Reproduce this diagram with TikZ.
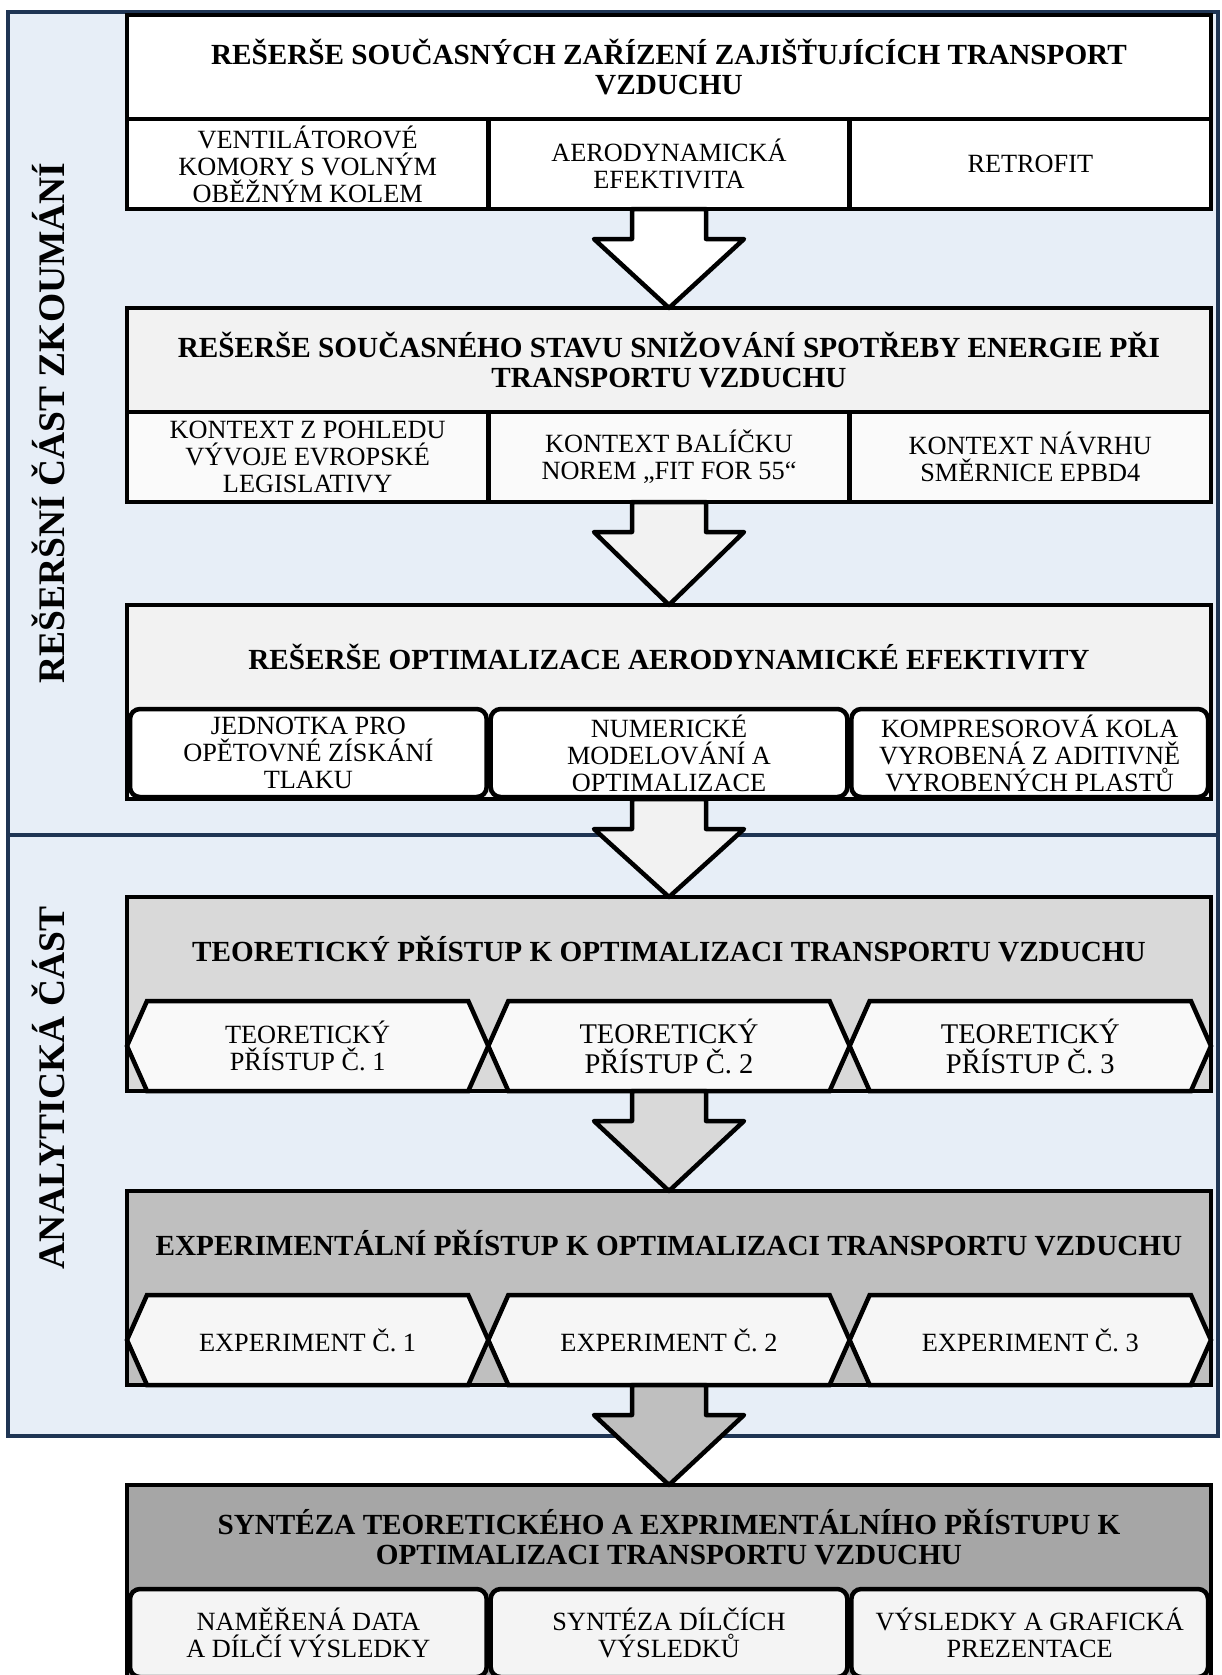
\documentclass[tikz,border=0pt]{standalone}
\usepackage{fontspec}
\setmainfont{Liberation Serif}
\usetikzlibrary
  {
    positioning,
    calc,
    shapes.symbols,
  }
\definecolor{panelfill}{RGB}{231,238,247}
\definecolor{paneldraw}{RGB}{31,53,84}
\definecolor{grayA}{RGB}{242,242,242}
\definecolor{grayB}{RGB}{217,217,217}
\definecolor{grayC}{RGB}{191,191,191}
\definecolor{grayD}{RGB}{166,166,166}
\definecolor{cellA}{RGB}{250,250,250}
\definecolor{cellB}{RGB}{249,249,249}
\definecolor{cellC}{RGB}{246,246,246}
\definecolor{cellD}{RGB}{244,244,244}
\newcommand\titlefont{\bfseries\fontsize{29.2}{30}\selectfont}
\newcommand\cellfont{\fontsize{26.3}{27}\selectfont}
\newcommand\bigcellfont{\fontsize{28.5}{30}\selectfont}
\newcommand\sidefont{\bfseries\fontsize{37.5}{40}\selectfont}
\newcommand\stagearrow[3]
  {
    \draw[stage arrow, fill=#3]
      ($(#1)+(-37,0)$) -- ($(#1)+(-37,30)$) -- ($(#1)+(-75,30)$)
      -- (#2)
      -- ($(#1)+(75,30)$) -- ($(#1)+(37,30)$) -- ($(#1)+(37,0)$) -- cycle;
  }
\tikzset
  {
    panel/.style=
      {
        draw=paneldraw,
        fill=panelfill,
        line width=4pt,
        rectangle,
        outer sep=0pt,
        minimum width=1210pt,
        anchor=north west,
      },
    side label/.style={rotate=90, font=\sidefont},
    stage/.style=
      {
        draw,
        line width=4.5pt,
        rectangle,
        outer sep=0pt,
        inner sep=0pt,
        minimum width=1084pt,
        minimum height=194pt,
        anchor=north,
      },
    stage title/.style=
      {
        rectangle,
        outer sep=0pt,
        inner sep=0pt,
        minimum width=1084pt,
        minimum height=104pt,
        align=center,
        font=\titlefont,
      },
    cell/.style=
      {
        draw,
        line width=4.5pt,
        rectangle,
        outer sep=0pt,
        inner sep=0pt,
        minimum width=361.33pt,
        minimum height=90pt,
        align=center,
        font=\cellfont,
      },
    round cell/.style=
      {
        cell,
        rounded corners=10pt,
        minimum width=356.67pt,
        minimum height=88pt,
      },
    hex cell/.style=
      {
        cell,
        shape=signal,
        signal to=west and east,
        signal pointer angle=132,
      },
    stage arrow/.style={draw, line width=4.5pt, line join=round},
  }
\begin{document}
\begin{tikzpicture}[x=1pt, y=-1pt]
  \clip (0,0) rectangle (1222,1675);

  \node[panel, minimum height=823pt] (research) at (8,12) {};
  \node[panel, minimum height=601pt] (analysis) at (8,835) {};
  \node[side label] (research label) at (48,423) {REŠERŠNÍ ČÁST ZKOUMÁNÍ};
  \node[side label] (analysis label) at (48,1088) {ANALYTICKÁ ČÁST};

  \node[stage, fill=white] (devices) at (669,15) {};
  \node[stage title, below=0pt of devices.north] (devices title)
    {REŠERŠE SOUČASNÝCH ZAŘÍZENÍ ZAJIŠŤUJÍCÍCH TRANSPORT\\VZDUCHU};
  \begin{scope}[every node/.style={cell, fill=white}]
    \node[above right=0pt and 0pt of devices.south west] (fans)
      {VENTILÁTOROVÉ\\KOMORY S VOLNÝM\\OBĚŽNÝM KOLEM};
    \node[right=0pt of fans] (aero) {AERODYNAMICKÁ\\EFEKTIVITA};
    \node[right=0pt of aero] (retrofit) {RETROFIT};
  \end{scope}

  \node[stage, fill=grayA] (energy) at (669,308) {};
  \node[stage title, below=0pt of energy.north] (energy title)
    {REŠERŠE SOUČASNÉHO STAVU SNIŽOVÁNÍ SPOTŘEBY ENERGIE PŘI\\TRANSPORTU VZDUCHU};
  \begin{scope}[every node/.style={cell, fill=cellA}]
    \node[above right=0pt and 0pt of energy.south west] (legislation)
      {KONTEXT Z POHLEDU\\VÝVOJE EVROPSKÉ\\LEGISLATIVY};
    \node[right=0pt of legislation] (fit55) {KONTEXT BALÍČKU\\NOREM „FIT FOR 55“};
    \node[right=0pt of fit55] (epbd) {KONTEXT NÁVRHU\\SMĚRNICE EPBD4};
  \end{scope}

  \node[stage, fill=grayA] (optimization) at (669,605) {};
  \node[stage title, below=0pt of optimization.north] (optimization title)
    {REŠERŠE OPTIMALIZACE AERODYNAMICKÉ EFEKTIVITY};
  \begin{scope}[every node/.style={round cell, fill=white}]
    \node[above right=2pt and 3pt of optimization.south west] (recovery)
      {JEDNOTKA PRO\\OPĚTOVNÉ ZÍSKÁNÍ\\TLAKU};
    \node[right=4pt of recovery] (numeric) {NUMERICKÉ\\MODELOVÁNÍ A\\OPTIMALIZACE};
    \node[right=4pt of numeric] (wheels)
      {KOMPRESOROVÁ KOLA\\VYROBENÁ Z ADITIVNĚ\\VYROBENÝCH PLASTŮ};
  \end{scope}

  \node[stage, fill=grayB] (theory) at (669,897) {};
  \node[stage title, below=0pt of theory.north] (theory title)
    {TEORETICKÝ PŘÍSTUP K OPTIMALIZACI TRANSPORTU VZDUCHU};
  \begin{scope}[every node/.style={hex cell, fill=cellB}]
    \node[above right=0pt and 20pt of theory.south west] (theory one)
      {TEORETICKÝ\\PŘÍSTUP Č. 1};
    \node[right=0pt of theory one, font=\bigcellfont] (theory two)
      {TEORETICKÝ\\PŘÍSTUP Č. 2};
    \node[right=0pt of theory two, font=\bigcellfont] (theory three)
      {TEORETICKÝ\\PŘÍSTUP Č. 3};
  \end{scope}

  \node[stage, fill=grayC] (experiment) at (669,1191) {};
  \node[stage title, below=0pt of experiment.north] (experiment title)
    {EXPERIMENTÁLNÍ PŘÍSTUP K OPTIMALIZACI TRANSPORTU VZDUCHU};
  \begin{scope}[every node/.style={hex cell, fill=cellC}]
    \node[above right=0pt and 20pt of experiment.south west] (experiment one)
      {EXPERIMENT Č. 1};
    \node[right=0pt of experiment one] (experiment two) {EXPERIMENT Č. 2};
    \node[right=0pt of experiment two] (experiment three) {EXPERIMENT Č. 3};
  \end{scope}

  \node[stage, fill=grayD] (synthesis) at (669,1485) {};
  \node[stage title, below=0pt of synthesis.north] (synthesis title)
    {SYNTÉZA TEORETICKÉHO A EXPRIMENTÁLNÍHO PŘÍSTUPU K\\OPTIMALIZACI TRANSPORTU VZDUCHU};
  \begin{scope}[every node/.style={round cell, fill=cellD}]
    \node[above right=2pt and 3pt of synthesis.south west] (measured)
      {NAMĚŘENÁ DATA\\A DÍLČÍ VÝSLEDKY};
    \node[right=4pt of measured] (partial) {SYNTÉZA DÍLČÍCH\\VÝSLEDKŮ};
    \node[right=4pt of partial] (results) {VÝSLEDKY A GRAFICKÁ\\PREZENTACE};
  \end{scope}

  \stagearrow{devices.south}{energy.north}{white}
  \stagearrow{energy.south}{optimization.north}{grayA}
  \stagearrow{optimization.south}{theory.north}{grayA}
  \stagearrow{theory.south}{experiment.north}{grayB}
  \stagearrow{experiment.south}{synthesis.north}{grayC}
\end{tikzpicture}
\end{document}
